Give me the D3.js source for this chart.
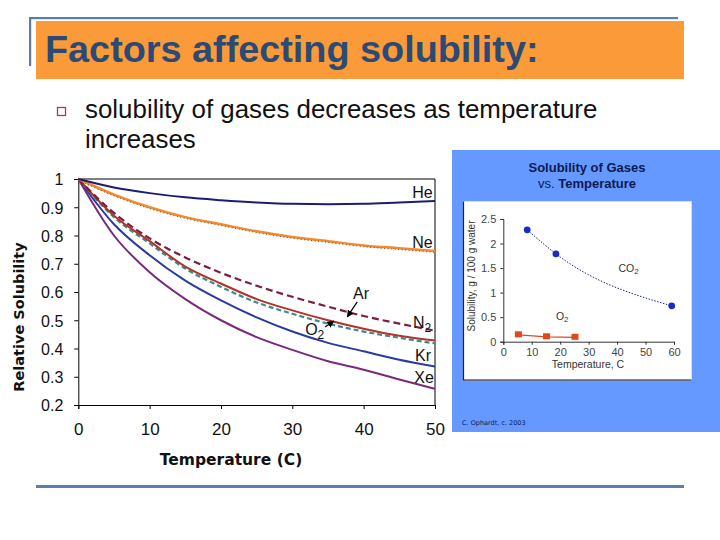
<!DOCTYPE html>
<html><head><meta charset="utf-8">
<script src="https://cdn.jsdelivr.net/npm/d3@7"></script>
<style>
html,body{margin:0;padding:0;background:#fff;}
svg{display:block;}
</style></head>
<body>
<svg id="c" width="720" height="540"></svg>
<script>
// ---------- data ----------
const temps = [0, 5, 10, 15, 20, 25, 30, 35, 40, 45, 50];
const heVals = [1, 0.97, 0.95, 0.935, 0.925, 0.917, 0.912, 0.911, 0.912, 0.917, 0.922];
const neVals = [1, 0.945, 0.9, 0.865, 0.84, 0.815, 0.795, 0.78, 0.765, 0.755, 0.745];
const n2Vals = [1, 0.88, 0.79, 0.722, 0.668, 0.622, 0.583, 0.548, 0.515, 0.488, 0.463];
const arVals = [1, 0.87, 0.78, 0.69, 0.63, 0.575, 0.535, 0.50, 0.47, 0.445, 0.428];
const o2Vals = [1, 0.865, 0.772, 0.683, 0.618, 0.563, 0.523, 0.488, 0.46, 0.438, 0.418];
const krVals = [1, 0.84, 0.73, 0.64, 0.57, 0.51, 0.46, 0.42, 0.39, 0.36, 0.336];
const xeVals = [1, 0.80, 0.67, 0.575, 0.50, 0.44, 0.395, 0.355, 0.325, 0.29, 0.257];
const xTicks = [0, 10, 20, 30, 40, 50];
const yTicks = [0.2, 0.3, 0.4, 0.5, 0.6, 0.7, 0.8, 0.9, 1];
const gasNames = ["He", "Ne", "N", "Ar", "O", "Kr", "Xe"];
const gasSubs = ["", "", "2", "", "2", "", ""];
const labelX = [46.8, 46.8, 46.9, 38.5, 31.8, 47.2, 47.1];
const labelY = [0.933, 0.756, 0.473, 0.575, 0.448, 0.356, 0.278];
// arrows [x1,y1,x2,y2] in data units
const arArrow = [39.1, 0.565, 37.7, 0.512];
const o2Arrow = [34.6, 0.476, 35.8, 0.497];

// inset chart data
const co2Temps = [8.4, 18.5, 59.2];
const co2Sol = [2.28, 1.79, 0.73];
const o2Temps = [5.3, 15.2, 25.2];
const o2Sol = [0.14, 0.10, 0.09];
const insetXTicks = [0, 10, 20, 30, 40, 50, 60];
const insetYTicks = [0, 0.5, 1, 1.5, 2, 2.5];

const svg = d3.select("#c");

// ---------- slide decoration ----------
svg.append("rect").attr("x", 29).attr("y", 17).attr("width", 649).attr("height", 2.2).attr("fill", "#5a7ca6");
svg.append("rect").attr("x", 29).attr("y", 17).attr("width", 2.2).attr("height", 49).attr("fill", "#5a7ca6");
svg.append("rect").attr("x", 36).attr("y", 21).attr("width", 648).attr("height", 58).attr("fill", "#fb9a38");
svg.append("text").attr("x", 45).attr("y", 62)
  .attr("font-family", "Liberation Sans, Arial, sans-serif").attr("font-weight", "bold")
  .attr("font-size", 37.8).attr("fill", "#2b4a75").text("Factors affecting solubility:");
svg.append("rect").attr("x", 57.5).attr("y", 107.5).attr("width", 8).attr("height", 8)
  .attr("fill", "none").attr("stroke", "#8c4a4a").attr("stroke-width", 1.3);
const bullet = svg.append("text").attr("font-family", "Liberation Sans, Arial, sans-serif")
  .attr("font-size", 25.9).attr("fill", "#111");
bullet.append("tspan").attr("x", 85).attr("y", 118).text("solubility of gases decreases as temperature");
bullet.append("tspan").attr("x", 85).attr("y", 148).text("increases");
svg.append("rect").attr("x", 36).attr("y", 485).attr("width", 648).attr("height", 3).attr("fill", "#5b7fa6");

// ---------- main chart ----------
const x = d3.scaleLinear().domain([0, 50]).range([78.3, 435]);
const y = d3.scaleLinear().domain([0.2, 1]).range([405, 179]);
const g = svg.append("g");

// frame
g.append("line").attr("x1", x(0)).attr("x2", x(50)).attr("y1", y(1)).attr("y2", y(1)).attr("stroke", "#000");
g.append("line").attr("x1", x(50)).attr("x2", x(50)).attr("y1", y(1)).attr("y2", y(0.2)).attr("stroke", "#000");

const xAxis = g.append("g").attr("transform", `translate(0,${y(0.2)})`)
  .call(d3.axisBottom(x).tickValues(xTicks).tickSize(4).tickPadding(14).tickFormat(d3.format("d")));
const yAxis = g.append("g").attr("transform", `translate(${x(0)},0)`)
  .call(d3.axisLeft(y).tickValues(yTicks).tickSize(4).tickPadding(11).tickFormat(d => d === 1 ? "1" : d3.format(".1f")(d)));
[xAxis, yAxis].forEach(a => {
  a.select(".domain").attr("stroke", "#000");
  a.selectAll(".tick line").attr("stroke", "#000");
  a.selectAll("text").attr("font-family", "Liberation Sans, Arial, sans-serif").attr("fill", "#111");
});
xAxis.selectAll("text").attr("font-size", 17);
yAxis.selectAll("text").attr("font-size", 16).attr("dy", "0.36em");

const line = vals => d3.line().x((d, i) => x(temps[i])).y(d => y(d)).curve(d3.curveMonotoneX)(vals);

g.append("path").attr("d", line(xeVals)).attr("fill", "none").attr("stroke", "#7a2a7e").attr("stroke-width", 2);
g.append("path").attr("d", line(krVals)).attr("fill", "none").attr("stroke", "#2a3aa2").attr("stroke-width", 2);
g.append("path").attr("d", line(o2Vals)).attr("fill", "none").attr("stroke", "#3b8c8a").attr("stroke-width", 2.2).attr("stroke-dasharray", "5,3");
g.append("path").attr("d", line(arVals)).attr("fill", "none").attr("stroke", "#b2322c").attr("stroke-width", 2);
g.append("path").attr("d", line(n2Vals)).attr("fill", "none").attr("stroke", "#7c1f3c").attr("stroke-width", 2.2).attr("stroke-dasharray", "7,4");
g.append("path").attr("d", line(neVals)).attr("fill", "none").attr("stroke", "#f28a2e").attr("stroke-width", 2.5);
g.append("path").attr("d", line(neVals)).attr("fill", "none").attr("stroke", "#7a4a20").attr("stroke-width", 1).attr("stroke-dasharray", "1,2.5").attr("transform", "translate(0,1.3)");
g.append("path").attr("d", line(heVals)).attr("fill", "none").attr("stroke", "#1c1c72").attr("stroke-width", 2);

// gas labels
gasNames.forEach((n, i) => {
  const t = g.append("text").attr("x", x(labelX[i])).attr("y", y(labelY[i]))
    .attr("font-family", "Liberation Sans, Arial, sans-serif").attr("font-size", 16).attr("fill", "#111");
  t.append("tspan").text(n);
  if (gasSubs[i]) t.append("tspan").attr("font-size", 12).attr("dy", 4).text(gasSubs[i]);
});

// arrows
svg.append("defs").append("marker").attr("id", "ah").attr("viewBox", "0 0 10 10").attr("refX", 9).attr("refY", 5)
  .attr("markerWidth", 6).attr("markerHeight", 6).attr("orient", "auto")
  .append("path").attr("d", "M0,0L10,5L0,10z").attr("fill", "#000");
[arArrow, o2Arrow].forEach(a => {
  g.append("line").attr("x1", x(a[0])).attr("y1", y(a[1])).attr("x2", x(a[2])).attr("y2", y(a[3]))
    .attr("stroke", "#000").attr("stroke-width", 1.2).attr("marker-end", "url(#ah)");
});

// axis titles
svg.append("text").attr("transform", `translate(24,317) rotate(-90)`).attr("text-anchor", "middle")
  .attr("font-family", "DejaVu Sans, Verdana, sans-serif").attr("font-weight", "bold").attr("font-size", 14.5)
  .attr("fill", "#111").text("Relative Solubility");
svg.append("text").attr("x", 231).attr("y", 465).attr("text-anchor", "middle")
  .attr("font-family", "DejaVu Sans, Verdana, sans-serif").attr("font-weight", "bold").attr("font-size", 15.5)
  .attr("fill", "#111").text("Temperature (C)");

// ---------- inset panel ----------
svg.append("rect").attr("x", 452).attr("y", 150).attr("width", 268).attr("height", 282).attr("fill", "#6699ff");
const pt = svg.append("text").attr("text-anchor", "middle").attr("font-family", "Liberation Sans, Arial, sans-serif")
  .attr("font-size", 13).attr("fill", "#0d1a4f");
pt.append("tspan").attr("x", 587).attr("y", 172).attr("font-weight", "bold").text("Solubility of Gases");
const l2 = pt.append("tspan").attr("x", 587).attr("y", 188);
l2.append("tspan").text("vs. ");
l2.append("tspan").attr("font-weight", "bold").text("Temperature");

svg.append("rect").attr("x", 463.5).attr("y", 201.5).attr("width", 228).attr("height", 178.5).attr("fill", "#fff").attr("stroke", "#ddd");
svg.append("path").attr("d", "M463.5,201.5V380H691.5").attr("fill", "none").attr("stroke", "#222").attr("stroke-width", 1.2);

const ix = d3.scaleLinear().domain([0, 60]).range([503.3, 674]);
const iy = d3.scaleLinear().domain([0, 2.5]).range([341.7, 219]);
const ixA = svg.append("g").attr("transform", `translate(0,${iy(0)})`)
  .call(d3.axisBottom(ix).tickValues(insetXTicks).tickSize(3).tickPadding(4).tickFormat(d3.format("d")));
const iyA = svg.append("g").attr("transform", `translate(${ix(0)},0)`)
  .call(d3.axisLeft(iy).tickValues(insetYTicks).tickSize(3).tickPadding(4).tickFormat(d => d3.format("")(d)));
[ixA, iyA].forEach(a => {
  a.select(".domain").attr("stroke", "#333");
  a.selectAll(".tick line").attr("stroke", "#333");
  a.selectAll("text").attr("font-family", "Liberation Sans, Arial, sans-serif").attr("font-size", 11).attr("fill", "#444");
});

svg.append("path").attr("d", d3.line().x((d, i) => ix(co2Temps[i])).y(d => iy(d)).curve(d3.curveMonotoneX)(co2Sol))
  .attr("fill", "none").attr("stroke", "#1a237a").attr("stroke-width", 1).attr("stroke-dasharray", "1.5,1.5");
svg.append("path").attr("d", d3.line().x((d, i) => ix(o2Temps[i])).y(d => iy(d))(o2Sol))
  .attr("fill", "none").attr("stroke", "#e2471a").attr("stroke-width", 1.2);
svg.selectAll(".co2pt").data(co2Sol).join("circle")
  .attr("cx", (d, i) => ix(co2Temps[i])).attr("cy", d => iy(d)).attr("r", 3.4).attr("fill", "#1a2bc4");
svg.selectAll(".o2pt").data(o2Sol).join("rect")
  .attr("x", (d, i) => ix(o2Temps[i]) - 3.5).attr("y", d => iy(d) - 3.5).attr("width", 7).attr("height", 6).attr("fill", "#e2471a");

const ilab = (tx, ty, main, sub) => {
  const t = svg.append("text").attr("x", tx).attr("y", ty).attr("font-family", "Liberation Sans, Arial, sans-serif")
    .attr("font-size", 10.5).attr("fill", "#333");
  t.append("tspan").text(main);
  t.append("tspan").attr("font-size", 8).attr("dy", 2).text(sub);
};
ilab(ix(40.5), iy(1.5) + 4, "CO", "2");
ilab(ix(18.5), iy(0.45), "O", "2");

svg.append("text").attr("transform", `translate(475,276) rotate(-90)`).attr("text-anchor", "middle")
  .attr("font-family", "Liberation Sans, Arial, sans-serif").attr("font-size", 10).attr("fill", "#333")
  .text("Solubility, g / 100 g water");
svg.append("text").attr("x", 588).attr("y", 368).attr("text-anchor", "middle")
  .attr("font-family", "Liberation Sans, Arial, sans-serif").attr("font-size", 10.5).attr("fill", "#333")
  .text("Temperature, C");
svg.append("text").attr("x", 462).attr("y", 424.5)
  .attr("font-family", "DejaVu Sans, Verdana, sans-serif").attr("font-size", 6.5).attr("fill", "#0d1a4f")
  .text("C. Ophardt, c. 2003");
</script>
</body></html>
